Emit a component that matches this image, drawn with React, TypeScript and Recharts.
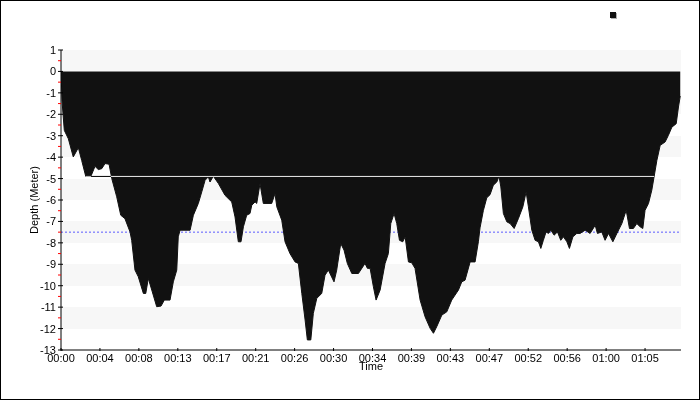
import React from 'react';
import { AreaChart, Area, XAxis, YAxis, CartesianGrid, ReferenceLine, Legend } from 'recharts';

// Dive profile: elapsed time (seconds) and depth (meters)
const TIME_S = [
  0, 7, 22, 49, 82, 116, 138, 165, 200, 227, 249, 272, 294, 321, 339, 372, 399, 427, 461, 472,
  494, 516, 550, 566, 583, 606, 639, 668, 690, 728, 750, 773, 783, 795, 862, 884, 917, 940, 962, 984,
  995, 1017, 1051, 1095, 1140, 1162, 1184, 1202, 1218, 1240, 1262, 1274, 1296, 1307, 1329, 1351, 1407, 1429, 1441, 1474,
  1496, 1529, 1563, 1585, 1608, 1630, 1645, 1668, 1685, 1708, 1741, 1763, 1785, 1823, 1841, 1868, 1890, 1912, 1942, 1986,
  2030, 2046, 2064, 2086, 2104, 2131, 2164, 2186, 2202, 2224, 2242, 2260, 2282, 2298, 2320, 2342, 2364, 2398, 2431, 2465,
  2487, 2509, 2543, 2576, 2609, 2654, 2676, 2698, 2732, 2765, 2787, 2798, 2820, 2843, 2865, 2887, 2910, 2925, 2937, 2954,
  2977, 2999, 3026, 3054, 3084, 3106, 3121, 3144, 3166, 3188, 3204, 3221, 3239, 3255, 3271, 3293, 3315, 3337, 3355, 3378,
  3395, 3418, 3444, 3466, 3500, 3533, 3567, 3582, 3611, 3633, 3656, 3685, 3712, 3745, 3774, 3796, 3822, 3845, 3867, 3885,
  3900, 3923, 3945, 3961, 3979, 4001, 4034, 4056, 4079, 4108, 4123, 4135,
];
const DEPTH_M = [
  0, -1.4, -2.75, -3.14, -3.99, -3.56, -4.15, -4.89, -4.89, -4.43, -4.58, -4.54, -4.3, -4.33, -5.0, -5.85, -6.71, -6.87, -7.49, -7.88,
  -9.27, -9.58, -10.36, -10.36, -9.66, -10.2, -10.98, -10.95, -10.67, -10.67, -9.82, -9.27, -7.72, -7.41, -7.41, -6.71, -6.16, -5.62, -5.08, -4.92,
  -5.16, -4.89, -5.23, -5.78, -6.09, -6.79, -7.95, -7.95, -7.25, -6.71, -6.63, -6.24, -6.09, -6.16, -5.23, -6.16, -6.16, -5.7, -6.32, -6.94,
  -7.95, -8.5, -8.89, -8.96, -10.36, -11.6, -12.53, -12.53, -11.29, -10.59, -10.36, -9.51, -9.27, -9.82, -9.27, -8.03, -8.34, -8.96, -9.43, -9.43,
  -8.96, -9.19, -9.19, -10.05, -10.67, -10.2, -8.96, -8.5, -7.1, -6.63, -7.1, -7.88, -7.95, -7.72, -8.89, -8.93, -9.19, -10.67, -11.45, -11.99,
  -12.22, -11.91, -11.37, -11.22, -10.67, -10.2, -9.82, -9.74, -8.89, -8.89, -7.95, -7.3, -6.5, -5.9, -5.75, -5.31, -5.16, -4.89, -5.39, -6.63,
  -7.02, -7.1, -7.33, -6.87, -6.32, -5.62, -6.32, -7.41, -7.88, -7.95, -8.26, -7.88, -7.49, -7.56, -7.41, -7.64, -7.49, -7.88, -7.72, -7.95,
  -8.26, -7.72, -7.56, -7.56, -7.41, -7.56, -7.18, -7.56, -7.49, -7.88, -7.56, -7.95, -7.56, -7.1, -6.48, -7.33, -7.33, -7.1, -7.25, -7.33,
  -6.48, -6.16, -5.54, -4.89, -4.15, -3.45, -3.29, -2.98, -2.6, -2.44, -1.66, -1.15,
];

const X_DOMAIN = [0, 4140];
const X_TICKS = [0, 260, 520, 780, 1040, 1300, 1560, 1820, 2080, 2340, 2600, 2860, 3120, 3380, 3640, 3900];
const Y_DOMAIN = [-13, 1];
const Y_MAJOR = [1, 0, -1, -2, -3, -4, -5, -6, -7, -8, -9, -10, -11, -12, -13];
const Y_MINOR = [0.5, -0.5, -1.5, -2.5, -3.5, -4.5, -5.5, -6.5, -7.5, -8.5, -9.5, -10.5, -11.5, -12.5];

const LIMIT_DEPTH = -7.5;
const STOP_DEPTH = -4.9;
const STOP_START = 165;
const STOP_END = 3961;

const data = TIME_S.map((t, i) => ({ t, depth: DEPTH_M[i] }));

const FONT = '"Liberation Sans", Arial, sans-serif';

const pad = (n: number) => (n < 10 ? '0' + n : '' + n);
const fmtTime = (s: number) => pad(Math.floor(s / 3600)) + ':' + pad(Math.floor((s % 3600) / 60));

const YTick = (props: any) => {
  const { x, y, payload } = props;
  const v = payload.value;
  if (!Number.isInteger(v)) {
    return <line x1={x - 3} x2={x} y1={y} y2={y} stroke="#ff0000" />;
  }
  return (
    <g>
      <line x1={x - 3} x2={x + 2} y1={y} y2={y} stroke="#000" />
      <text x={x - 5} y={y} dy="0.36em" textAnchor="end" fontFamily={FONT} fontSize={11} fill="#000">
        {v}
      </text>
    </g>
  );
};

const XTick = (props: any) => {
  const { x, y, payload } = props;
  return (
    <g>
      <line x1={x} x2={x} y1={y - 2} y2={y + 1} stroke="#000" />
      <text x={x} y={y + 12} textAnchor="middle" fontFamily={FONT} fontSize={11} fill="#000">
        {fmtTime(payload.value)}
      </text>
    </g>
  );
};

const LegendContent = (props: any) => {
  const { payload } = props;
  return (
    <div style={{ display: 'flex' }}>
      {(payload || []).map((p: any, i: number) => (
        <div
          key={i}
          style={{ width: 6, height: 6, background: p.color, boxShadow: '1px 1px 0 #b0b0b0' }}
        />
      ))}
    </div>
  );
};

export default function App() {
  return (
    <div style={{ position: 'absolute', left: 0, top: 0, width: 700, height: 400, background: '#fff' }}>
      <style>{'.stop-line line { mix-blend-mode: difference; }'}</style>
      <AreaChart
        width={700}
        height={400}
        data={data}
        margin={{ top: 50, right: 19, left: 0, bottom: 20 }}
      >
        <CartesianGrid
          vertical={false}
          stroke="none"
          yAxisId="grid"
          horizontalFill={['#f7f7f7', '#ffffff']}
        />
        <XAxis
          dataKey="t"
          type="number"
          domain={X_DOMAIN}
          ticks={X_TICKS}
          interval={0}
          height={30}
          tickLine={false}
          tickSize={0}
          tickMargin={0}
          tick={<XTick />}
          axisLine={{ stroke: '#000' }}
          allowDataOverflow
          label={{
            content: (p: any) => {
              const vb = p.viewBox;
              return (
                <text x={vb.x + vb.width / 2} y={vb.y + 20} textAnchor="middle" fontFamily={FONT} fontSize={11} fill="#000">
                  Time
                </text>
              );
            },
          }}
        />
        <YAxis
          yAxisId="grid"
          type="number"
          domain={Y_DOMAIN}
          ticks={Y_MAJOR}
          interval={0}
          hide
          allowDataOverflow
        />
        <YAxis
          yAxisId="depth"
          type="number"
          domain={Y_DOMAIN}
          ticks={[...Y_MAJOR, ...Y_MINOR]}
          interval={0}
          width={61}
          tickLine={false}
          tickSize={0}
          tickMargin={0}
          tick={<YTick />}
          axisLine={{ stroke: '#000' }}
          allowDataOverflow
          label={{
            content: (p: any) => {
              const vb = p.viewBox;
              const cx = vb.x + 38;
              const cy = vb.y + vb.height / 2;
              return (
                <text
                  x={cx}
                  y={cy}
                  transform={`rotate(-90 ${cx} ${cy})`}
                  textAnchor="middle"
                  fontFamily={FONT}
                  fontSize={11}
                  fill="#000"
                >
                  Depth (Meter)
                </text>
              );
            },
          }}
        />
        <ReferenceLine
          yAxisId="depth"
          y={LIMIT_DEPTH}
          stroke="#5a5aff"
          strokeDasharray="2 2"
          zIndex={50}
        />
        <Area
          yAxisId="depth"
          type="linear"
          dataKey="depth"
          name="Depth"
          stroke="#111111"
          fill="#111111"
          fillOpacity={1}
          baseValue={0}
          dot={false}
          activeDot={false}
          isAnimationActive={false}
        />
        <ReferenceLine
          yAxisId="depth"
          className="stop-line"
          segment={[
            { x: STOP_START, y: STOP_DEPTH },
            { x: STOP_END, y: STOP_DEPTH },
          ]}
          stroke="#ffffff"
          strokeWidth={1}
          zIndex={150}
        />
        <Legend
          layout="horizontal"
          verticalAlign="middle"
          align="center"
          content={<LegendContent />}
          wrapperStyle={{ position: 'absolute', left: 610, top: 12, width: 8, height: 8 }}
        />
      </AreaChart>
      <div
        style={{
          position: 'absolute',
          left: 0,
          top: 0,
          width: 700,
          height: 400,
          boxSizing: 'border-box',
          border: '1px solid #000',
          pointerEvents: 'none',
        }}
      />
    </div>
  );
}
